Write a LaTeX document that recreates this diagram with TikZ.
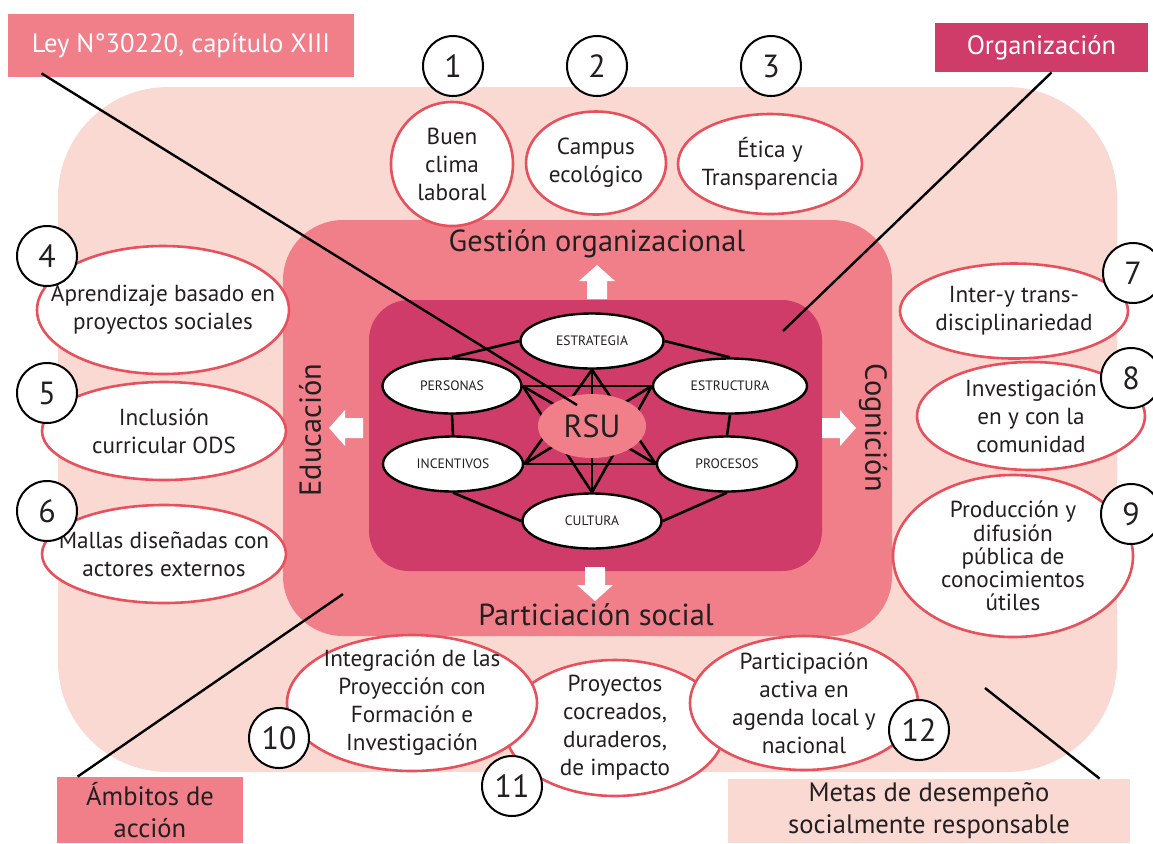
\documentclass[tikz,border=0pt]{standalone}
\usepackage{fontspec}
\setmainfont{PT Sans}
\usetikzlibrary{shapes.geometric}

\definecolor{rosa}{HTML}{FAD9D3}
\definecolor{salmon}{HTML}{F07F89}
\definecolor{fucsia}{HTML}{D03C69}
\definecolor{borde}{HTML}{E8505B}
\definecolor{tinta}{HTML}{231F20}

% ellipse with its text laid over it (name, centre, width, height, text)
\newcommand\bubble[5]{%
  \node[bubble,minimum width=#3pt,minimum height=#4pt] (#1) at (#2) {};
  \node[bubtext] at (#1) {#5};}

\begin{document}
\begin{tikzpicture}[x=0.5pt,y=-0.5pt,
  bubble/.style={ellipse,draw=borde,line width=1.3pt,fill=white,inner sep=0pt},
  bubtext/.style={align=center,inner sep=0pt,text=tinta,font=\fontsize{11.6}{14}\selectfont},
  num/.style={circle,draw=black,line width=1pt,fill=white,minimum size=30pt,inner sep=0pt,
    text=tinta,font=\fontsize{16}{16}\selectfont},
  item/.style={ellipse,draw=black,line width=1.2pt,fill=white,inner sep=0pt,
    minimum height=27.5pt,text=tinta,font=\fontsize{6.8}{6.8}\selectfont},
  link/.style={line width=1.3pt},
  leader/.style={line width=1.2pt},
  tag/.style={inner sep=0pt,align=center,font=\fontsize{13.3}{16}\selectfont},
  ambito/.style={text=tinta,font=\fontsize{15.2}{15.2}\selectfont},
  wayout/.pic={\fill[white] (-10,17) -- (-10,-1) -- (-18,-1) -- (0,-17) -- (18,-1) -- (10,-1) -- (10,17) -- cycle;}]
\clip (0,0) rectangle (1153,843);

% three nested rings
\fill[rosa,rounded corners=55pt] (58,87) rectangle (1117,772);
\fill[salmon,rounded corners=30pt] (283,220) rectangle (892,636);
\fill[fucsia,rounded corners=20pt] (369,300) rectangle (822,571);

% inner network
\node[item,minimum width=71.5pt] (estrategia) at (592,341) {ESTRATEGIA};
\node[item,minimum width=69.5pt] (personas) at (452,386) {PERSONAS};
\node[item,minimum width=77pt] (estructura) at (730,386) {ESTRUCTURA};
\node[item,minimum width=70pt] (incentivos) at (453,464) {INCENTIVOS};
\node[item,minimum width=70pt] (procesos) at (727,464) {PROCESOS};
\node[item,minimum width=69.5pt] (cultura) at (592,521) {CULTURA};
\draw[link] (estrategia.west) -- (personas.north);
\draw[link] (estrategia.east) -- (estructura.north);
\draw[link] (personas.south) -- (incentivos.north);
\draw[link] (estructura.south) -- (procesos.north);
\draw[link] (incentivos.south) -- (cultura.west);
\draw[link] (procesos.south) -- (cultura.east);
\draw[link] (personas.east) -- (estructura.west);
\draw[link] (incentivos.east) -- (procesos.west);
\draw[link] (estrategia.south) -- (incentivos.east);
\draw[link] (estrategia.south) -- (procesos.west);
\draw[link] (estrategia.south) -- (cultura.north);
\draw[link] (cultura.north) -- (personas.east);
\draw[link] (cultura.north) -- (estructura.west);
\draw[link] (personas.east) -- (procesos.west);
\draw[link] (incentivos.east) -- (estructura.west);
\node[ellipse,fill=salmon,inner sep=0pt,minimum width=54pt,minimum height=32pt,
  text=tinta,font=\fontsize{16}{16}\selectfont] (rsu) at (592,426) {RSU};

% ambitos
\node[ambito] (gestion) at (597,244) {Gestión organizacional};
\node[ambito] (particip) at (596,615) {Particiación social};
\node[ambito,rotate=90] (educ) at (310,430) {Educación};
\node[ambito,rotate=-90] (cogn) at (873,428) {Cognición};
\pic at (597,282) {wayout};
\pic[rotate=90] at (346,428) {wayout};
\pic[rotate=-90] at (839,428) {wayout};
\pic[rotate=180] at (595,584) {wayout};

% metas
\bubble{clima}{452,164}{61}{62}{Buen\\clima\\laboral}
\bubble{campus}{596,163}{70}{51.5}{Campus\\ecológico}
\bubble{etica}{770,164}{92}{50}{Ética y\\Transparencia}
\bubble{abps}{163,310}{126}{64}{Aprendizaje basado en\\proyectos sociales}
\bubble{ods}{164,431}{122}{49}{Inclusión\\curricular ODS}
\bubble{mallas}{164,554}{122}{49}{Mallas diseñadas con\\actores externos}
\bubble{inter}{1014,311}{114}{47.5}{Inter-y trans-\\disciplinariedad}
\bubble{invest}{1031,416}{114}{54}{Investigación\\en y con la\\comunidad}
\node[bubble,minimum width=120pt,minimum height=81pt] (difus) at (1013,556) {};
\node[bubtext,font=\fontsize{11.6}{11.6}\selectfont] at (difus) {Producción y\\difusión\\pública de\\conocimientos\\útiles};
\bubble{cocrea}{615,728}{110}{68}{Proyectos\\cocreados,\\duraderos,\\de impacto}
\bubble{integra}{412,703}{125}{68}{Integración de las\\Proyección con\\Formación e\\Investigación}
\bubble{agenda}{804,703}{114}{67}{Participación\\activa en\\agenda local y\\nacional}

\foreach \n/\x/\y in {1/453/66, 2/597/66, 3/771/66, 4/47/256, 5/47/393, 6/47/511,
  7/1133/273, 8/1131/378, 9/1131/514, 10/279/738, 11/512/786, 12/919/730}
  \node[num] (n\n) at (\x,\y) {\n};

% label boxes and leaders
\node[tag,fill=salmon,text=white,minimum width=173pt,minimum height=31.5pt] (ley) at (181,45.5) {Ley N°30220, capítulo XIII};
\node[tag,fill=fucsia,text=white,minimum width=106.5pt,minimum height=24.5pt] (org) at (1041.5,47.5) {Organización};
\node[tag,fill=salmon,text=tinta,minimum width=93pt,minimum height=33pt] (acc) at (150,810) {Ámbitos de\\acción};
\node[tag,fill=rosa,text=tinta,minimum width=201pt,minimum height=32pt] (desemp) at (929,811) {Metas de desempeño\\socialmente responsable};
\coordinate (leyend) at (577,405);
\coordinate (orgend) at (783,331);
\coordinate (accend) at (343,594);
\coordinate (desend) at (985,688);
\draw[leader] ([xshift=17pt,yshift=2pt]ley.south west) -- (leyend);
\draw[leader] ([xshift=58.5pt]org.south west) -- (orgend);
\draw[leader] ([xshift=10.5pt]acc.north west) -- (accend);
\draw[leader] ([xshift=186pt]desemp.north west) -- (desend);
\end{tikzpicture}
\end{document}
